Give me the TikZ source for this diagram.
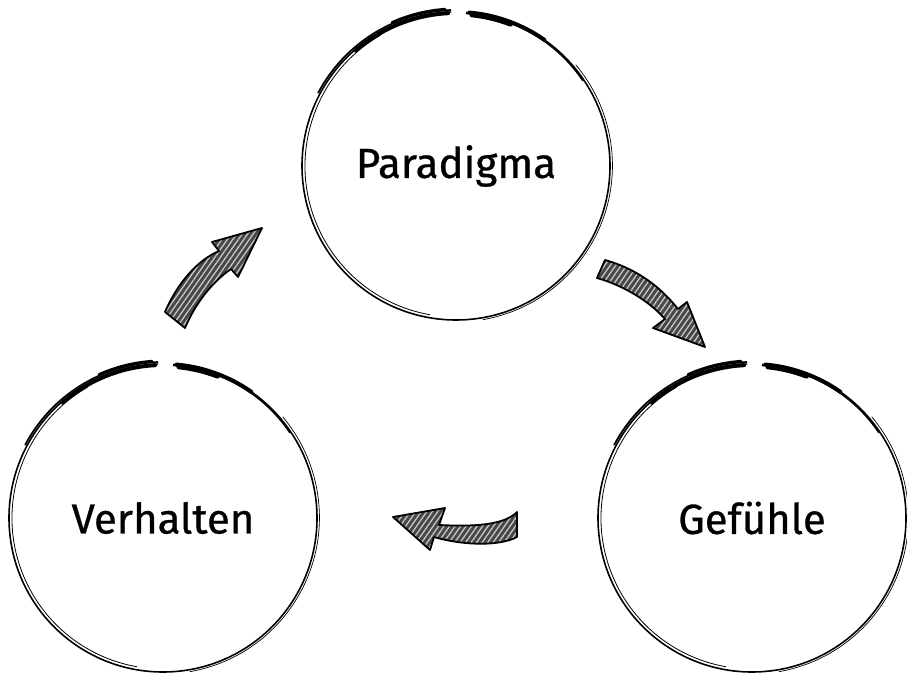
\documentclass[tikz,border=0pt]{standalone}
\usepackage{fontspec}
\setmainfont{Fira Sans}[FakeBold=0.7]
\usetikzlibrary{patterns.meta}

\begin{document}
\begin{tikzpicture}[x=1pt,y=1pt]
	\tikzstyle{ring} = [circle, minimum size=308pt, inner sep=0pt, font=\fontsize{42}{48}\selectfont];
	\tikzstyle{stroke} = [line width=1.6pt, line cap=round];
	\tikzstyle{brush} = [line width=4pt, line cap=round];
	\tikzstyle{hatched} = [line width=1.8pt, line join=round, preaction={fill=black!72}, preaction={pattern={Lines[angle=55,distance=4.5pt,line width=1.3pt]}, pattern color=black!22}, draw=black];
	\useasboundingbox (0,0) rectangle (907,674);
	\node (paradigma) [ring] at (456,508) {Paradigma};
	\node (verhalten) [ring] at (163,156) {Verhalten};
	\node (gefuehle) [ring] at (752,156) {Gefühle};
	% sketchy circles, open at the top
	\foreach \n in {paradigma,verhalten,gefuehle}{
		\draw [stroke] ([shift={(92:154pt)}]\n.center) arc[start angle=92, delta angle=354, radius=154pt];
		\draw [stroke, line width=0.8pt] ([shift={(120:151pt)}]\n.center) arc[start angle=120, delta angle=140, radius=151pt];
		\draw [stroke, line width=0.7pt] ([shift={(280:156pt)}]\n.center) arc[start angle=280, delta angle=120, radius=156.5pt];
		\draw [stroke, line width=1.8pt] ([shift={(92:156pt)}]\n.center) arc[start angle=92, delta angle=60, radius=156pt];
		\draw [brush] ([shift={(93:153pt)}]\n.center) arc[start angle=93, delta angle=38, radius=153pt];
		\draw [brush, line width=3pt] ([shift={(94:157pt)}]\n.center) arc[start angle=94, delta angle=20, radius=157pt];
		\draw [stroke, line width=1.8pt] ([shift={(86:153pt)}]\n.center) arc[start angle=86, delta angle=-52, radius=153pt];
		\draw [brush] ([shift={(85:154pt)}]\n.center) arc[start angle=85, delta angle=-30, radius=154pt];
		\draw [brush, line width=5pt] ([shift={(84:152pt)}]\n.center) arc[start angle=84, delta angle=-15, radius=152pt];
	}
	% block arrows between the circles
	\draw [hatched] (165,362) .. controls (178,392) and (198,414) .. (219,423) -- (212,432) -- (262,446) -- (238,397) -- (231,405) .. controls (212,392) and (195,370) .. (185,346) -- cycle;
	\draw [hatched] (605,414) .. controls (640,404) and (662,385) .. (678,365) -- (687,372) -- (705,327) -- (653,346) -- (665,355) .. controls (650,372) and (625,388) .. (597,396) -- cycle;
	\draw [hatched] (393,157) -- (445,166) -- (439,149) .. controls (480,147) and (505,150) .. (517,162) -- (517,137) .. controls (500,128) and (465,128) .. (434,137) -- (430,124) -- cycle;
\end{tikzpicture}
\end{document}
